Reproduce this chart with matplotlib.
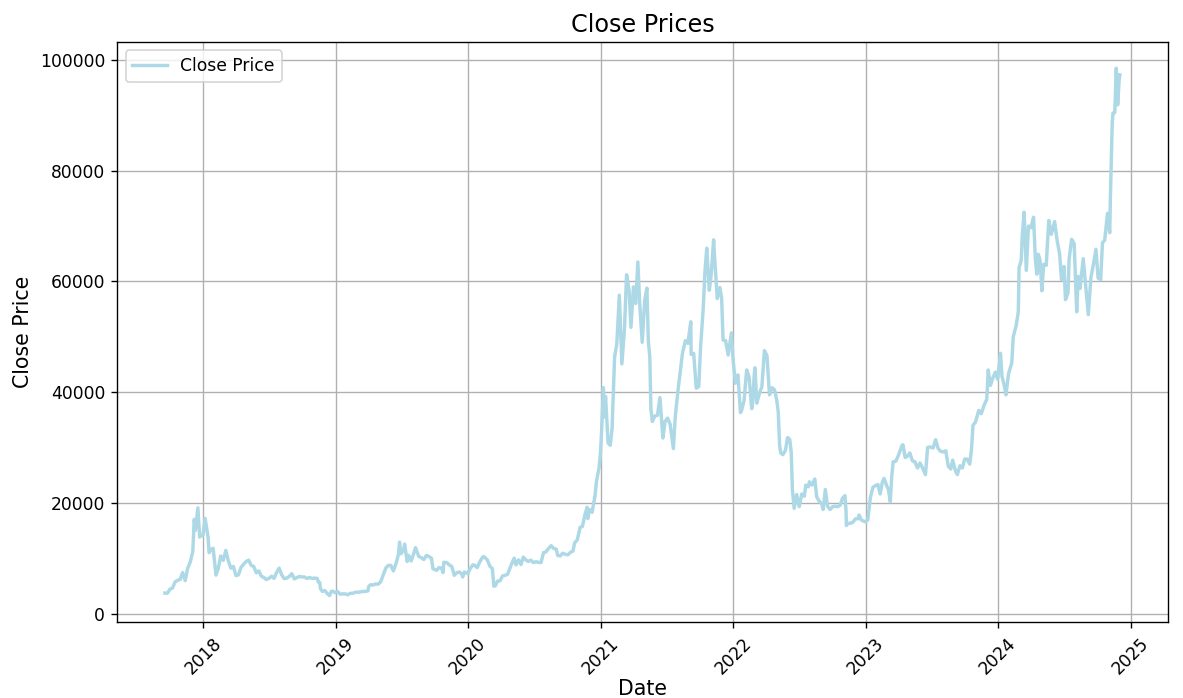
import pandas as pd
import matplotlib.pyplot as plt

# --Data (approximate close prices)--

dates_2017 = ["2017-09-17", "2017-09-24", "2017-10-01", "2017-10-08", "2017-10-15", "2017-10-22",
              "2017-10-29", "2017-11-05", "2017-11-12", "2017-11-19", "2017-11-26", "2017-12-03",
              "2017-12-07", "2017-12-10", "2017-12-17", "2017-12-22", "2017-12-24", "2017-12-31"]
close_2017 = [3700, 3670, 4400, 4600, 5700, 6000,
              6150, 7400, 5950, 8200, 9300, 11200,
              17000, 15000, 19100, 13800, 14000, 14150]

dates_2018 = ["2018-01-06", "2018-01-14", "2018-01-17", "2018-01-21", "2018-01-28", "2018-02-05",
              "2018-02-11", "2018-02-18", "2018-02-25", "2018-03-04", "2018-03-11", "2018-03-18",
              "2018-03-25", "2018-04-01", "2018-04-08", "2018-04-15", "2018-04-22", "2018-04-29",
              "2018-05-06", "2018-05-13", "2018-05-20", "2018-05-27", "2018-06-03", "2018-06-10",
              "2018-06-17", "2018-06-24", "2018-07-01", "2018-07-08", "2018-07-15", "2018-07-22",
              "2018-07-29", "2018-08-05", "2018-08-12", "2018-08-19", "2018-08-26", "2018-09-02",
              "2018-09-09", "2018-09-16", "2018-09-23", "2018-09-30", "2018-10-07", "2018-10-14",
              "2018-10-21", "2018-10-28", "2018-11-04", "2018-11-11", "2018-11-14", "2018-11-18",
              "2018-11-20", "2018-11-25", "2018-12-02", "2018-12-09", "2018-12-15", "2018-12-20",
              "2018-12-24", "2018-12-31"]
close_2018 = [17200, 13800, 11000, 11500, 11800, 6950,
              8100, 10400, 9600, 11400, 9500, 8200,
              8500, 6850, 7000, 8350, 8900, 9400,
              9650, 8700, 8500, 7350, 7700, 6750,
              6500, 6150, 6350, 6750, 6350, 7400,
              8200, 7000, 6300, 6400, 6700, 7200,
              6250, 6500, 6700, 6620, 6600, 6350,
              6500, 6350, 6400, 6350, 5700, 5600,
              4500, 4000, 4150, 3600, 3250, 4000,
              4050, 3750]

dates_2019 = ["2019-01-06", "2019-01-13", "2019-01-20", "2019-01-27", "2019-02-03", "2019-02-10",
              "2019-02-17", "2019-02-24", "2019-03-03", "2019-03-10", "2019-03-17", "2019-03-24",
              "2019-03-31", "2019-04-02", "2019-04-07", "2019-04-14", "2019-04-21", "2019-04-28",
              "2019-05-05", "2019-05-12", "2019-05-19", "2019-05-26", "2019-06-02", "2019-06-09",
              "2019-06-16", "2019-06-23", "2019-06-26", "2019-06-30", "2019-07-07", "2019-07-10",
              "2019-07-17", "2019-07-21", "2019-07-28", "2019-08-04", "2019-08-09", "2019-08-18",
              "2019-08-25", "2019-09-01", "2019-09-08", "2019-09-15", "2019-09-22", "2019-09-26",
              "2019-10-06", "2019-10-13", "2019-10-20", "2019-10-24", "2019-10-26", "2019-11-03",
              "2019-11-10", "2019-11-17", "2019-11-24", "2019-12-01", "2019-12-08", "2019-12-15",
              "2019-12-17", "2019-12-22", "2019-12-31"]
close_2019 = [4000, 3500, 3550, 3550, 3400, 3650,
              3650, 3850, 3850, 3900, 4000, 4000,
              4100, 4900, 5200, 5150, 5350, 5300,
              5750, 7000, 8200, 8700, 8700, 7700,
              8950, 10700, 12900, 10800, 11450, 12550,
              9400, 10500, 9500, 10800, 11900, 10300,
              10100, 9750, 10500, 10300, 10000, 8100,
              7800, 8300, 8200, 7400, 9250, 9200,
              8800, 8500, 6900, 7400, 7500, 7100,
              6600, 7500, 7200]

dates_2020 = ["2020-01-07", "2020-01-14", "2020-01-19", "2020-01-26", "2020-02-02", "2020-02-09",
              "2020-02-13", "2020-02-23", "2020-03-01", "2020-03-08", "2020-03-12", "2020-03-16",
              "2020-03-22", "2020-03-29", "2020-04-05", "2020-04-12", "2020-04-19", "2020-04-29",
              "2020-05-07", "2020-05-12", "2020-05-19", "2020-05-26", "2020-06-01", "2020-06-08",
              "2020-06-15", "2020-06-22", "2020-06-29", "2020-07-06", "2020-07-13", "2020-07-20",
              "2020-07-27", "2020-08-02", "2020-08-09", "2020-08-17", "2020-08-24", "2020-08-31",
              "2020-09-04", "2020-09-11", "2020-09-18", "2020-09-25", "2020-10-02", "2020-10-09",
              "2020-10-16", "2020-10-21", "2020-10-28", "2020-11-05", "2020-11-11", "2020-11-18",
              "2020-11-24", "2020-11-26", "2020-12-01", "2020-12-08", "2020-12-16", "2020-12-20",
              "2020-12-27", "2020-12-31"]
close_2020 = [8150, 8800, 8700, 8300, 9300, 10100,
              10300, 9700, 8550, 8100, 4950, 5000,
              5850, 5900, 6800, 6900, 7100, 8800,
              10000, 8800, 9700, 8850, 10200, 9700,
              9400, 9650, 9200, 9350, 9250, 9200,
              11000, 11100, 11700, 12250, 11750, 11650,
              10500, 10400, 10900, 10700, 10600, 11050,
              11300, 12800, 13300, 15600, 15700, 17800,
              19200, 17150, 18800, 18300, 21300, 23900,
              26300, 29000]

dates_2021 = ["2021-01-03", "2021-01-08", "2021-01-11", "2021-01-14", "2021-01-21", "2021-01-27",
              "2021-02-01", "2021-02-08", "2021-02-14", "2021-02-21", "2021-02-28", "2021-03-07",
              "2021-03-13", "2021-03-20", "2021-03-25", "2021-04-01", "2021-04-07", "2021-04-13",
              "2021-04-18", "2021-04-25", "2021-05-02", "2021-05-08", "2021-05-12", "2021-05-16",
              "2021-05-19", "2021-05-23", "2021-05-30", "2021-06-06", "2021-06-13", "2021-06-21",
              "2021-06-27", "2021-07-04", "2021-07-11", "2021-07-20", "2021-07-25", "2021-08-01",
              "2021-08-08", "2021-08-14", "2021-08-22", "2021-08-29", "2021-09-06", "2021-09-07",
              "2021-09-14", "2021-09-21", "2021-09-28", "2021-10-03", "2021-10-10", "2021-10-15",
              "2021-10-20", "2021-10-27", "2021-11-01", "2021-11-08", "2021-11-10", "2021-11-18",
              "2021-11-25", "2021-11-30", "2021-12-04", "2021-12-11", "2021-12-18", "2021-12-27",
              "2021-12-31"]
close_2021 = [32800, 40800, 35500, 39200, 30800, 30400,
              33500, 46400, 48700, 57500, 45100, 51200,
              61200, 58300, 51700, 59000, 56000, 63500,
              56200, 49000, 56600, 58800, 49100, 46400,
              37000, 34700, 35700, 35800, 39000, 31700,
              34700, 35300, 34200, 29800, 35400, 39900,
              43800, 47000, 49300, 48800, 52700, 46800,
              47000, 40700, 41000, 48200, 54800, 61700,
              66000, 58400, 61000, 67500, 64900, 56900,
              58900, 57000, 49400, 49300, 46700, 50700,
              46300]

dates_2022 = ["2022-01-07", "2022-01-14", "2022-01-21", "2022-01-24", "2022-01-31", "2022-02-07",
              "2022-02-10", "2022-02-14", "2022-02-21", "2022-02-24", "2022-02-28", "2022-03-02",
              "2022-03-07", "2022-03-14", "2022-03-21", "2022-03-28", "2022-04-04", "2022-04-11",
              "2022-04-18", "2022-04-25", "2022-05-01", "2022-05-05", "2022-05-09", "2022-05-12",
              "2022-05-18", "2022-05-25", "2022-05-31", "2022-06-06", "2022-06-10", "2022-06-13",
              "2022-06-18", "2022-06-25", "2022-07-02", "2022-07-09", "2022-07-16", "2022-07-20",
              "2022-07-27", "2022-07-30", "2022-08-06", "2022-08-14", "2022-08-19", "2022-08-26",
              "2022-09-02", "2022-09-06", "2022-09-12", "2022-09-18", "2022-09-25", "2022-10-02",
              "2022-10-09", "2022-10-16", "2022-10-23", "2022-10-29", "2022-11-05", "2022-11-08",
              "2022-11-09", "2022-11-13", "2022-11-20", "2022-11-27", "2022-12-04", "2022-12-11",
              "2022-12-14", "2022-12-20", "2022-12-27", "2022-12-31"]
close_2022 = [41600, 43100, 36300, 36700, 38500, 44000,
              43500, 42600, 37000, 38300, 43200, 44400,
              38000, 39700, 41000, 47500, 46600, 39500,
              40800, 40400, 38500, 36500, 30300, 29000,
              28700, 29500, 31800, 31400, 29000, 22500,
              19000, 21500, 19300, 21600, 21200, 23200,
              22900, 23800, 23200, 24300, 21100, 20300,
              19800, 18800, 22400, 19400, 18800, 19300,
              19400, 19300, 19600, 20800, 21300, 18500,
              15900, 16300, 16300, 16500, 17100, 17100,
              17800, 16900, 16700, 16550]

dates_2023 = ["2023-01-07", "2023-01-14", "2023-01-21", "2023-01-28", "2023-02-04", "2023-02-10",
              "2023-02-16", "2023-02-21", "2023-02-28", "2023-03-05", "2023-03-10", "2023-03-14",
              "2023-03-18", "2023-03-25", "2023-04-01", "2023-04-11", "2023-04-14", "2023-04-20",
              "2023-04-26", "2023-05-03", "2023-05-10", "2023-05-17", "2023-05-24", "2023-05-31",
              "2023-06-07", "2023-06-15", "2023-06-21", "2023-06-28", "2023-07-06", "2023-07-13",
              "2023-07-20", "2023-07-27", "2023-08-03", "2023-08-10", "2023-08-17", "2023-08-24",
              "2023-08-29", "2023-09-06", "2023-09-11", "2023-09-18", "2023-09-25", "2023-10-01",
              "2023-10-08", "2023-10-15", "2023-10-20", "2023-10-24", "2023-10-31", "2023-11-09",
              "2023-11-16", "2023-11-24", "2023-12-01", "2023-12-05", "2023-12-11", "2023-12-18",
              "2023-12-25", "2023-12-31"]
close_2023 = [16900, 20900, 22800, 23100, 23300, 21600,
              23700, 24400, 23100, 22400, 20200, 24700,
              27400, 27500, 28500, 30300, 30500, 28200,
              28400, 29000, 27600, 27400, 26300, 27200,
              26300, 25100, 30000, 30100, 29900, 31400,
              29800, 29300, 29200, 29400, 26600, 26100,
              27700, 25700, 25100, 26700, 26300, 27900,
              27900, 27000, 29700, 34000, 34600, 36700,
              36100, 37700, 38700, 44000, 41200, 42600,
              43600, 42300]

dates_2024 = ["2024-01-08", "2024-01-12", "2024-01-18", "2024-01-23", "2024-01-30", "2024-02-08",
              "2024-02-12", "2024-02-20", "2024-02-26", "2024-02-28", "2024-03-05", "2024-03-08",
              "2024-03-13", "2024-03-19", "2024-03-25", "2024-04-01", "2024-04-08", "2024-04-13",
              "2024-04-17", "2024-04-21", "2024-04-26", "2024-05-01", "2024-05-06", "2024-05-13",
              "2024-05-20", "2024-05-27", "2024-06-05", "2024-06-12", "2024-06-19", "2024-06-24",
              "2024-07-01", "2024-07-05", "2024-07-12", "2024-07-15", "2024-07-22", "2024-07-29",
              "2024-08-05", "2024-08-09", "2024-08-14", "2024-08-23", "2024-08-30", "2024-09-06",
              "2024-09-13", "2024-09-20", "2024-09-27", "2024-10-03", "2024-10-10", "2024-10-15",
              "2024-10-21", "2024-10-29", "2024-11-04", "2024-11-06", "2024-11-11", "2024-11-13",
              "2024-11-18", "2024-11-22", "2024-11-26", "2024-11-30", "2024-12-02"]
close_2024 = [47000, 42800, 41300, 39500, 43300, 45300,
              50000, 52000, 54500, 62400, 63800, 68300,
              72500, 62000, 70000, 69700, 71600, 64000,
              61300, 64900, 63800, 58300, 63100, 62900,
              71000, 68500, 70800, 67400, 64900, 60300,
              62700, 56700, 57900, 64000, 67600, 66800,
              54500, 60900, 58700, 64100, 59100, 54000,
              60600, 63100, 65800, 60600, 60300, 67000,
              67400, 72300, 68800, 75600, 88700, 90400,
              90500, 98500, 91900, 96400, 97300]

dates = dates_2017 + dates_2018 + dates_2019 + dates_2020 + dates_2021 + dates_2022 + dates_2023 + dates_2024
close = close_2017 + close_2018 + close_2019 + close_2020 + close_2021 + close_2022 + close_2023 + close_2024

df = pd.DataFrame({'Date': pd.to_datetime(dates), 'Close': close})

# --Plotting--

# reference looks rendered at a slightly higher dpi than 100
fig = plt.figure(figsize=(1183 / 123, 698 / 123), dpi=123)
plt.subplots_adjust(left=0.099, right=0.987, top=0.94, bottom=0.109)

plt.plot(df['Date'], df['Close'], label='Close Price', color='lightblue', linewidth=2)
plt.title('Close Prices', fontsize=14)
plt.xlabel('Date', fontsize=12, labelpad=1)
plt.ylabel('Close Price', fontsize=12)
plt.xticks(rotation=45)
plt.legend(loc='upper left')
plt.grid(True)

plt.savefig('out.png', dpi=123)
